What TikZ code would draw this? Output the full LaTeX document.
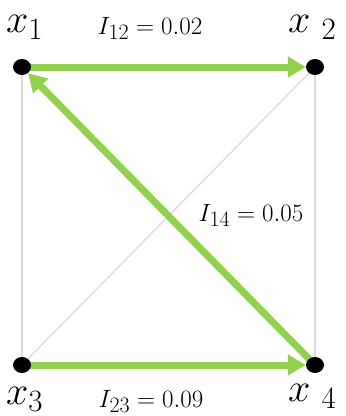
\documentclass[tikz,border=0pt]{standalone}
\usepackage{fix-cm}
\usepackage{amsmath}
\usetikzlibrary{arrows.meta, shapes.geometric, backgrounds}
\definecolor{linkgreen}{RGB}{146,208,80}
\DeclareMathSizes{25}{25}{22}{16}
\DeclareMathSizes{40}{40}{31}{24}
\newcommand{\vsub}[1]{\lower7pt\hbox{$\scriptstyle #1$}}
\begin{document}
\begin{tikzpicture}[x=1pt, y=-1pt,
    dot/.style={ellipse, fill=black, minimum width=18pt, minimum height=16pt, inner sep=0pt},
    link/.style={gray!28, line width=1.3pt},
    arr/.style={-{Triangle[length=18pt, width=20pt]}, linkgreen, line width=7pt},
    lbl/.style={font=\fontsize{25}{27}\selectfont, inner sep=0pt},
    vlbl/.style={font=\fontsize{40}{42}\selectfont, inner sep=0pt}]
  \useasboundingbox (0,0) rectangle (346,416);
  % vertices
  \node[dot] (x1) at (22,67) {};
  \node[dot] (x2) at (315,67) {};
  \node[dot] (x3) at (22,365) {};
  \node[dot] (x4) at (315,365) {};
  \begin{scope}[on background layer]
    % weak links
    \draw[link] (x1.center) -- (x3.center);
    \draw[link] (x2.center) -- (x4.center);
    \draw[link] (x3.center) -- (x2.center);
    % strong links
    \draw[arr] (x1.center) -- (x2);
    \draw[arr] (x4.center) -- (x1);
    \draw[arr] (x3.center) -- (x4);
  \end{scope}
  % vertex labels
  \node[vlbl, anchor=base west] (l1) at (6,32) {$x\vsub{1}$};
  \node[vlbl, anchor=base west] (l2) at (288,32) {$x\;\vsub{2}$};
  \node[vlbl, anchor=base west] (l3) at (6,404) {$x\vsub{3}$};
  \node[vlbl, anchor=base west] (l4) at (288,401) {$x\;\vsub{4}$};
  % weights
  \node[lbl, anchor=base] (w12) at (150,34) {$I_{12} = 0.02$};
  \node[lbl, anchor=base] (w14) at (251,221) {$I_{14} = 0.05$};
  \node[lbl, anchor=base] (w23) at (151,407) {$I_{23} = 0.09$};
\end{tikzpicture}
\end{document}
